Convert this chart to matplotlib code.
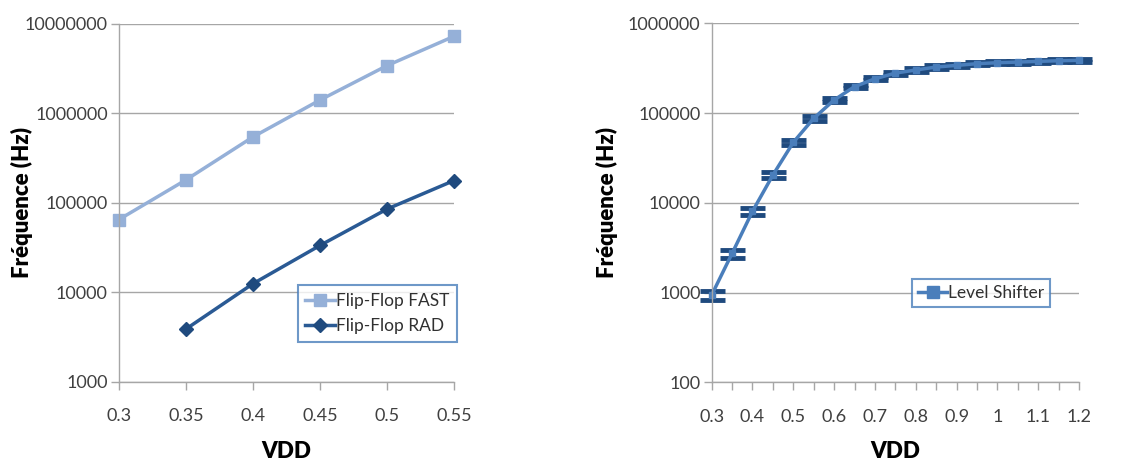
import numpy as np
import matplotlib.pyplot as plt
from matplotlib.lines import Line2D
from matplotlib.ticker import FixedLocator, NullLocator, FuncFormatter

plt.rcParams['font.family'] = ['Lato', 'DejaVu Sans']

# left chart data
vdd_ff = [0.3, 0.35, 0.4, 0.45, 0.5, 0.55]
ff_fast = [65000, 180000, 543000, 1400000, 3390000, 7200000]
vdd_rad = [0.35, 0.4, 0.45, 0.5, 0.55]
ff_rad = [3900, 12500, 33400, 85000, 177000]

# right chart data
vdd_ls = [0.3, 0.35, 0.4, 0.45, 0.5, 0.55, 0.6, 0.65, 0.7, 0.75,
          0.8, 0.85, 0.9, 0.95, 1.0, 1.05, 1.1, 1.15, 1.2]
level_shifter = [940, 2730, 8040, 20400, 47200, 87400, 140000, 197000, 241000, 279000,
                 302000, 326000, 340000, 355000, 364000, 370000, 377000, 383000, 387000]
# relative error (fraction) for error bars
ls_err = [0.11, 0.10, 0.08, 0.08, 0.07, 0.06, 0.05, 0.045, 0.04, 0.04,
          0.04, 0.04, 0.04, 0.04, 0.04, 0.04, 0.04, 0.04, 0.04]

tick_col = '#404040'
grid_col = '#a6a6a6'

fig = plt.figure(figsize=(11.3, 4.61), dpi=100)
ax1 = fig.add_axes([0.1053, 0.1714, 0.2965, 0.7776])
ax2 = fig.add_axes([0.6298, 0.1707, 0.3251, 0.7787])


def style(ax, ylab_x):
    ax.set_yscale('log')
    for s in ['top', 'right']:
        ax.spines[s].set_visible(False)
    for s in ['left', 'bottom']:
        ax.spines[s].set_color(grid_col)
        ax.spines[s].set_linewidth(1.0)
    ax.yaxis.grid(True, color=grid_col, linewidth=1.0)
    ax.set_axisbelow(True)
    ax.tick_params(axis='both', colors=grid_col, labelcolor=tick_col,
                   labelsize=13, length=6, width=1.0)
    ax.tick_params(axis='x', pad=13)
    ax.tick_params(axis='y', pad=2)
    ax.yaxis.set_minor_locator(NullLocator())
    ax.yaxis.set_major_formatter(FuncFormatter(lambda v, p: '%d' % round(v)))
    ax.set_xlabel('VDD', fontsize=16, fontweight='heavy', labelpad=12)
    ax.set_ylabel('Fréquence (Hz)', fontsize=16, fontweight='heavy')
    ax.yaxis.set_label_coords(ylab_x, 0.5)


# left
style(ax1, -0.256)
ax1.plot(vdd_ff, ff_fast, color='#95b0d8', linewidth=2.5, marker='s',
         markersize=8, label='Flip-Flop FAST', clip_on=False)
ax1.plot(vdd_rad, ff_rad, color='#2a5a94', linewidth=2.5, marker='D',
         markersize=7, markerfacecolor='#1f4a7e', markeredgecolor='#1f4a7e',
         label='Flip-Flop RAD', clip_on=False)
ax1.set_xlim(0.3, 0.55)
ax1.set_ylim(1000, 10000000)
ax1.set_xticks(vdd_ff)
ax1.set_xticklabels(['0.3', '0.35', '0.4', '0.45', '0.5', '0.55'])
ax1.yaxis.set_major_locator(FixedLocator([1e3, 1e4, 1e5, 1e6, 1e7]))
leg1 = ax1.legend(loc='lower left', bbox_to_anchor=(0.533, 0.111), fontsize=12.5,
                  frameon=True, fancybox=False, borderaxespad=0, handlelength=1.7,
                  handletextpad=0.05, borderpad=0.45, labelspacing=0.55)
leg1.get_frame().set_edgecolor('#4a7ebb')
leg1.get_frame().set_linewidth(1.5)
for t in leg1.get_texts():
    t.set_color('#303030')

# right
style(ax2, -0.255)
ls = np.array(level_shifter)
err = ls * np.array(ls_err)
ax2.errorbar(vdd_ls, level_shifter, yerr=err, color='#4a7ebb', linewidth=2.5,
             marker='s', markersize=5, markerfacecolor='#4a7ebb',
             markeredgecolor='#4a7ebb', ecolor='#1f4a7e', elinewidth=0,
             capsize=9, capthick=3.5, clip_on=False)
ax2.set_xlim(0.3, 1.2)
ax2.set_ylim(100, 1000000)
ax2.set_xticks(vdd_ls, minor=False)
ax2.set_xticklabels(['0.3', '', '0.4', '', '0.5', '', '0.6', '', '0.7', '',
                     '0.8', '', '0.9', '', '1', '', '1.1', '', '1.2'])
ax2.yaxis.set_major_locator(FixedLocator([1e2, 1e3, 1e4, 1e5, 1e6]))
ls_handle = Line2D([], [], color='#4a7ebb', linewidth=2.5, marker='s',
                   markersize=9, markerfacecolor='#4a7ebb', markeredgecolor='#4a7ebb')
leg2 = ax2.legend([ls_handle], ['Level Shifter'], loc='lower left',
                  bbox_to_anchor=(0.5445, 0.209), fontsize=12.5,
                  frameon=True, fancybox=False, borderaxespad=0, handlelength=1.7,
                  handletextpad=0.05, borderpad=0.35)
leg2.get_frame().set_edgecolor('#4a7ebb')
leg2.get_frame().set_linewidth(1.5)
for t in leg2.get_texts():
    t.set_color('#303030')

fig.savefig('out.png', dpi=100)
